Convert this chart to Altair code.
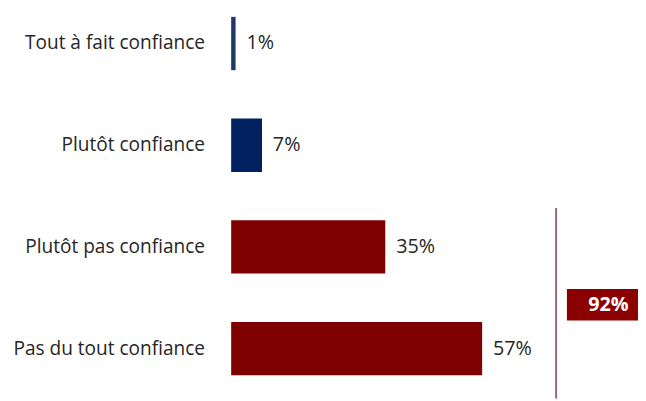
import altair as alt
import pandas as pd

categories = ["Tout à fait confiance", "Plutôt confiance", "Plutôt pas confiance", "Pas du tout confiance"]
values = [1, 7, 35, 57]
colors = ["#1F3864", "#002060", "#7F0000", "#7F0000"]
value_labels = ["1%", "7%", "35%", "57%"]
total_label = ["92%"]

df = pd.DataFrame({"cat": categories, "val": values, "color": colors, "lab": value_labels})
tot = pd.DataFrame({"lab": total_label})

FONT = "Open Sans"

y = alt.Y("cat:N", sort=categories, title=None,
          scale=alt.Scale(range=[0, 376], paddingInner=0.476, paddingOuter=0.063),
          axis=alt.Axis(domain=False, ticks=False, labelPadding=27, labelFontSize=19.3,
                        labelFont=FONT, labelColor="#262626", labelLimit=300))
x = alt.X("val:Q", title=None, scale=alt.Scale(domain=[0, 90.6], nice=False),
          axis=None)

base = alt.Chart(df)
bars = base.mark_bar().encode(x=x, y=y, color=alt.Color("color:N", scale=None))
texts = base.mark_text(align="left", baseline="middle", dx=11, fontSize=20,
                       font=FONT, color="#262626").encode(x=x, y=y, text="lab:N")

rule = alt.Chart(tot).mark_rule(color="#8B3A4E", strokeWidth=1.5).encode(
    x=alt.value(329), y=alt.value(200), y2=alt.value(393))
box = alt.Chart(tot).mark_rect(color="#8B0000").encode(
    x=alt.value(340), x2=alt.value(420), y=alt.value(282), y2=alt.value(314))
boxtext = alt.Chart(tot).mark_text(align="center", baseline="middle", fontSize=20,
                                   fontWeight="bold", font=FONT, color="white").encode(
    x=alt.value(382), y=alt.value(298), text="lab:N")

chart = alt.layer(bars, texts, rule, box, boxtext).properties(
    width=404, height=376,
    autosize=alt.AutoSizeParams(type="none"),
    padding={"left": 226, "top": 0, "right": 8, "bottom": 17},
).configure(background="white").configure_view(strokeWidth=0, stroke="transparent")

chart.save("out.html", embed_options={"renderer": "svg", "actions": False})
